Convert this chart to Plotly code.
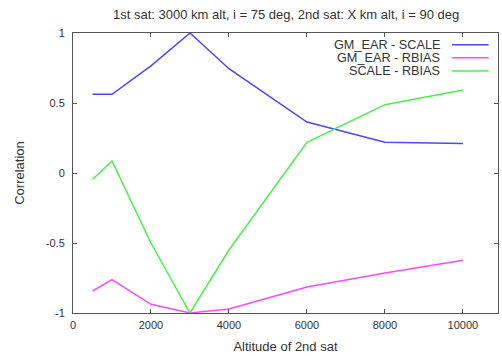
import plotly.graph_objects as go

altitudes = [500, 1000, 2000, 3000, 4000, 6000, 8000, 10000]
gm_ear_scale = [0.562, 0.562, 0.765, 1.0, 0.745, 0.364, 0.219, 0.21]
gm_ear_rbias = [-0.843, -0.762, -0.938, -1.0, -0.971, -0.814, -0.714, -0.624]
scale_rbias = [-0.047, 0.086, -0.50, -1.0, -0.55, 0.219, 0.488, 0.593]

series_names = ["GM_EAR - SCALE", "GM_EAR - RBIAS", "SCALE - RBIAS"]
series_values = [gm_ear_scale, gm_ear_rbias, scale_rbias]
series_colors = ["#4848ff", "#ff48ff", "#48f048"]

x_ticks = [0, 2000, 4000, 6000, 8000, 10000]
x_tick_labels = ["0", "2000", "4000", "6000", "8000", "10000"]
y_ticks = [-1, -0.5, 0, 0.5, 1]
y_tick_labels = ["-1", "-0.5", "0", "0.5", "1"]

font = "Liberation Sans, Arial, sans-serif"
fig = go.Figure()
for name, vals, col in zip(series_names, series_values, series_colors):
    fig.add_trace(go.Scatter(x=altitudes, y=vals, mode="lines", name=name,
                             line=dict(color=col, width=1.5), showlegend=False))

# manual legend (text right-aligned, sample line on the right) like gnuplot
legend_y = [0.958, 0.912, 0.864]
for name, col, ly in zip(series_names, series_colors, legend_y):
    fig.add_annotation(x=0.868, y=ly, xref="paper", yref="paper", text=name,
                       showarrow=False, xanchor="right", yanchor="middle",
                       font=dict(family=font, size=12.7, color="#333"))
    fig.add_shape(type="line", xref="paper", yref="paper", x0=0.892, x1=0.978,
                  y0=ly, y1=ly, line=dict(color=col, width=1.5))

axis_common = dict(showgrid=False, zeroline=False, showline=True, linecolor="#555",
                   linewidth=1, mirror="ticks", ticks="inside", ticklen=4,
                   tickcolor="#555", tickfont=dict(family=font, size=11, color="#333"))

fig.update_layout(
    width=502, height=356,
    margin=dict(l=73, r=4, t=33, b=43),
    paper_bgcolor="white", plot_bgcolor="white",
    title=dict(text="1st sat: 3000 km alt, i = 75 deg, 2nd sat: X km alt, i = 90 deg",
               x=0.57, xanchor="center", y=0.96, yanchor="middle",
               font=dict(family=font, size=13, color="#333")),
    xaxis=dict(range=[0, 10900], tickvals=x_ticks, ticktext=x_tick_labels,
               ticklabelstandoff=2,
               title=dict(text="Altitude of 2nd sat", standoff=11,
                          font=dict(family=font, size=13, color="#333")),
               **axis_common),
    yaxis=dict(range=[-1, 1], tickvals=y_ticks, ticktext=y_tick_labels,
               ticklabelstandoff=5,
               title=dict(text="Correlation", standoff=18,
                          font=dict(family=font, size=13, color="#333")),
               **axis_common),
)

fig.write_html("out.html", config={"displayModeBar": False},
               post_script="document.body.style.margin='0';document.body.style.padding='0';")
